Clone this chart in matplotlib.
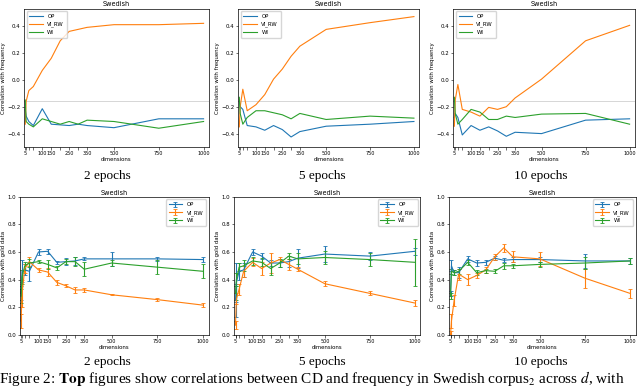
import matplotlib
matplotlib.use('Agg')
import matplotlib.pyplot as plt

# dimensoes testadas (eixo x)
dims = [5, 10, 25, 50, 100, 150, 200, 250, 300, 350, 500, 750, 1000]
dim_labels = ['5', '', '', '', '100', '150', '', '250', '', '350', '500', '750', '1000']
epocas = ['2 epochs', '5 epochs', '10 epochs']

# --- linha de cima: correlacao com frequencia ---
freq_op = [
    [-0.22, -0.27, -0.31, -0.34, -0.215, -0.33, -0.335, -0.34, -0.33, -0.34, -0.356, -0.29, -0.29],
    [-0.16, -0.20, -0.22, -0.34, -0.35, -0.375, -0.34, -0.37, -0.425, -0.385, -0.345, -0.33, -0.31],
    [-0.28, -0.25, -0.28, -0.41, -0.34, -0.375, -0.35, -0.38, -0.42, -0.39, -0.40, -0.30, -0.29],
]
freq_vi = [
    [-0.33, -0.16, -0.08, -0.05, 0.07, 0.16, 0.29, 0.36, 0.375, 0.39, 0.41, 0.41, 0.42],
    [-0.35, -0.20, -0.07, -0.23, -0.185, -0.11, 0.005, 0.08, 0.175, 0.25, 0.375, 0.425, 0.47],
    [-0.345, -0.15, -0.035, -0.22, -0.24, -0.27, -0.205, -0.22, -0.20, -0.135, 0.005, 0.29, 0.405],
]
freq_wi = [
    [-0.15, -0.31, -0.33, -0.35, -0.29, -0.31, -0.33, -0.31, -0.33, -0.30, -0.31, -0.36, -0.31],
    [-0.13, -0.25, -0.33, -0.28, -0.23, -0.23, -0.245, -0.26, -0.29, -0.25, -0.295, -0.27, -0.285],
    [-0.13, -0.25, -0.33, -0.295, -0.22, -0.24, -0.295, -0.295, -0.27, -0.28, -0.255, -0.25, -0.33],
]
freq_ref = -0.16

# --- linha de baixo: correlacao com gold data (media e erro) ---
gold_op = [
    [0.30, 0.46, 0.47, 0.46, 0.60, 0.605, 0.525, 0.53, 0.535, 0.55, 0.55, 0.55, 0.545],
    [0.25, 0.38, 0.46, 0.47, 0.60, 0.57, 0.52, 0.52, 0.53, 0.555, 0.585, 0.57, 0.605],
    [0.30, 0.50, 0.45, 0.45, 0.55, 0.52, 0.525, 0.555, 0.54, 0.545, 0.545, 0.535, 0.535],
]
gold_op_err = [
    [0.05, 0.08, 0.04, 0.07, 0.025, 0.02, 0.01, 0.025, 0.03, 0.01, 0.05, 0.015, 0.015],
    [0.12, 0.14, 0.06, 0.05, 0.02, 0.02, 0.02, 0.03, 0.04, 0.07, 0.06, 0.03, 0.025],
    [0.02, 0.04, 0.02, 0.04, 0.02, 0.02, 0.02, 0.015, 0.015, 0.02, 0.02, 0.05, 0.02],
]
gold_vi = [
    [0.10, 0.30, 0.48, 0.53, 0.47, 0.455, 0.38, 0.355, 0.325, 0.325, 0.29, 0.255, 0.215],
    [0.07, 0.26, 0.33, 0.46, 0.525, 0.48, 0.52, 0.545, 0.51, 0.475, 0.37, 0.30, 0.23],
    [0.00, 0.10, 0.25, 0.44, 0.40, 0.43, 0.47, 0.565, 0.63, 0.565, 0.55, 0.41, 0.30],
]
gold_vi_err = [
    [0.05, 0.10, 0.03, 0.03, 0.015, 0.03, 0.02, 0.01, 0.02, 0.015, 0.005, 0.01, 0.015],
    [0.03, 0.04, 0.04, 0.04, 0.03, 0.05, 0.07, 0.02, 0.04, 0.015, 0.02, 0.015, 0.02],
    [0.03, 0.05, 0.04, 0.04, 0.04, 0.02, 0.02, 0.02, 0.03, 0.04, 0.05, 0.07, 0.03],
]
gold_wi = [
    [0.28, 0.42, 0.50, 0.52, 0.53, 0.51, 0.485, 0.53, 0.53, 0.475, 0.52, 0.49, 0.46],
    [0.30, 0.40, 0.49, 0.50, 0.535, 0.525, 0.48, 0.52, 0.57, 0.55, 0.56, 0.545, 0.525],
    [0.28, 0.46, 0.45, 0.46, 0.525, 0.45, 0.465, 0.46, 0.50, 0.50, 0.51, 0.52, 0.535],
]
gold_wi_err = [
    [0.05, 0.05, 0.03, 0.03, 0.01, 0.03, 0.015, 0.02, 0.03, 0.05, 0.025, 0.05, 0.05],
    [0.05, 0.05, 0.03, 0.04, 0.03, 0.03, 0.05, 0.03, 0.02, 0.04, 0.05, 0.05, 0.17],
    [0.02, 0.02, 0.02, 0.02, 0.02, 0.02, 0.015, 0.015, 0.02, 0.015, 0.02, 0.04, 0.02],
]

cores = ['#1f77b4', '#ff7f0e', '#2ca02c']
nomes = ['OP', 'VI_RW', 'WI']

fig = plt.figure(figsize=(6.4, 3.88), dpi=100)

pos_cima = [(0.0375, 0.621, 0.289, 0.357), (0.372, 0.621, 0.283, 0.357), (0.708, 0.621, 0.284, 0.357)]
pos_baixo = [(0.031, 0.137, 0.295, 0.356), (0.366, 0.137, 0.291, 0.356), (0.702, 0.137, 0.291, 0.356)]
centros = [0.168, 0.503, 0.845]

fs = 3.9


def estilo_eixo(ax):
    for s in ax.spines.values():
        s.set_linewidth(0.5)
    ax.tick_params(labelsize=fs, length=1.8, width=0.4, pad=1)
    ax.set_xticks(dims)
    ax.set_xticklabels(dim_labels, fontsize=3.5)
    ax.set_xlim(-2, 1030)
    ax.set_title('Swedish', fontsize=fs + 0.8, pad=1.5)
    ax.set_xlabel('dimensions', fontsize=fs, labelpad=1)


for i in range(3):
    # correlacao com frequencia
    ax = fig.add_axes(pos_cima[i])
    ax.axhline(freq_ref, color='#d0d0d0', linewidth=0.6)
    for serie, cor, nome in zip([freq_op[i], freq_vi[i], freq_wi[i]], cores, nomes):
        ax.plot(dims, serie, color=cor, linewidth=0.8, label=nome)
    estilo_eixo(ax)
    ax.set_ylim(-0.5, 0.53)
    ax.set_yticks([-0.4, -0.2, 0.0, 0.2, 0.4])
    ax.set_ylabel('Correlation with frequency', fontsize=fs, labelpad=1)
    ax.legend(loc='upper left', fontsize=fs, handlelength=2.5, borderpad=0.5,
              labelspacing=0.5, framealpha=0.8, edgecolor='#cccccc', fancybox=True)
    fig.text(centros[i], 0.547, epocas[i], ha='center', va='center',
             family='Liberation Serif', fontsize=9.5)

    # correlacao com gold data
    ax = fig.add_axes(pos_baixo[i])
    for serie, erro, cor, nome in zip([gold_op[i], gold_vi[i], gold_wi[i]],
                                      [gold_op_err[i], gold_vi_err[i], gold_wi_err[i]],
                                      cores, nomes):
        ax.errorbar(dims, serie, yerr=erro, color=cor, linewidth=0.8, elinewidth=0.8,
                    capsize=1.5, capthick=0.6, label=nome)
    estilo_eixo(ax)
    ax.set_ylim(0, 1.0)
    ax.set_yticks([0.0, 0.2, 0.4, 0.6, 0.8, 1.0])
    ax.set_ylabel('Correlation with gold data', fontsize=fs, labelpad=1)
    ax.legend(loc='upper right', fontsize=fs, handlelength=2.5, borderpad=0.5,
              labelspacing=0.5, framealpha=0.8, edgecolor='#cccccc', fancybox=True)
    fig.text(centros[i], 0.066, epocas[i], ha='center', va='center',
             family='Liberation Serif', fontsize=9.5)

plt.rcParams['mathtext.fontset'] = 'stix'
fig.text(-0.002, 0.024,
         r'Figure 2: $\mathbf{Top}$ figures show correlations between CD and frequency in Swedish corpus$_2$ across $d$, with',
         ha='left', va='center', family='Liberation Serif', fontsize=11)

fig.savefig('out.png', dpi=100, facecolor='white')
